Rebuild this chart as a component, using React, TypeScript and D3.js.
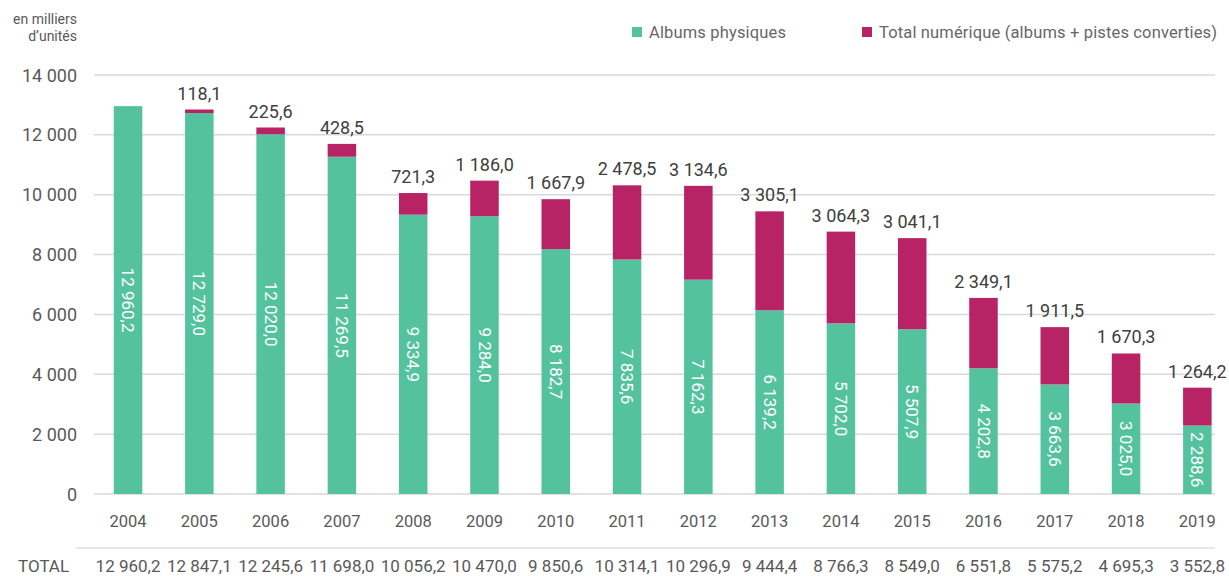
import React, { useEffect, useRef } from "react";
import * as d3 from "d3";

const years = ["2004", "2005", "2006", "2007", "2008", "2009", "2010", "2011", "2012", "2013", "2014", "2015", "2016", "2017", "2018", "2019"];
const physical = [12960.2, 12729.0, 12020.0, 11269.5, 9334.9, 9284.0, 8182.7, 7835.6, 7162.3, 6139.2, 5702.0, 5507.9, 4202.8, 3663.6, 3025.0, 2288.6];
const digital = [0, 118.1, 225.6, 428.5, 721.3, 1186.0, 1667.9, 2478.5, 3134.6, 3305.1, 3064.3, 3041.1, 2349.1, 1911.5, 1670.3, 1264.2];
const totals = ["12 960,2", "12 847,1", "12 245,6", "11 698,0", "10 056,2", "10 470,0", "9 850,6", "10 314,1", "10 296,9", "9 444,4", "8 766,3", "8 549,0", "6 551,8", "5 575,2", "4 695,3", "3 552,8"];
const yTicks = [0, 2000, 4000, 6000, 8000, 10000, 12000, 14000];

const GREEN = "#55c29e";
const MAGENTA = "#b72364";
const FONT = "Roboto, 'Noto Sans', sans-serif";
const GREY = "#595959";

// french number format: 12 960,2
const fr = (v: number, dec: number) => {
  const s = v.toFixed(dec).split(".");
  const int = s[0].replace(/\B(?=(\d{3})+(?!\d))/g, " ");
  return dec ? int + "," + s[1] : int;
};

export default function App() {
  const ref = useRef<SVGSVGElement>(null);

  useEffect(() => {
    const svg = d3.select(ref.current);
    svg.selectAll("*").remove();

    const x = d3.scaleBand().domain(years).range([92.4, 1233]).paddingInner(0.6).paddingOuter(0.3);
    const y = d3.scaleLinear().domain([0, 14000]).range([494, 75]);

    // grid
    svg.append("g").selectAll("line").data(yTicks).enter().append("line")
      .attr("x1", 94).attr("x2", 1215)
      .attr("y1", d => y(d)).attr("y2", d => y(d))
      .attr("stroke", "#d9d9d9").attr("stroke-width", 1.5);

    svg.append("g").selectAll("text").data(yTicks).enter().append("text")
      .attr("x", 77).attr("y", d => y(d) + 6.5)
      .attr("text-anchor", "end")
      .attr("font-size", 18).attr("fill", GREY)
      .text(d => fr(d, 0));

    // unit
    svg.append("text").attr("x", 77).attr("y", 24).attr("text-anchor", "end")
      .attr("font-size", 14).attr("fill", GREY).text("en milliers");
    svg.append("text").attr("x", 77).attr("y", 41).attr("text-anchor", "end")
      .attr("font-size", 14).attr("fill", GREY).text("d’unités");

    const g = svg.append("g");
    const bars = g.selectAll("g").data(years).enter().append("g");

    bars.append("rect")
      .attr("x", d => x(d)!)
      .attr("width", x.bandwidth())
      .attr("y", (d, i) => y(physical[i]))
      .attr("height", (d, i) => y(0) - y(physical[i]))
      .attr("fill", GREEN);

    bars.append("rect")
      .attr("x", d => x(d)!)
      .attr("width", x.bandwidth())
      .attr("y", (d, i) => y(physical[i] + digital[i]))
      .attr("height", (d, i) => y(0) - y(digital[i]))
      .attr("fill", MAGENTA);

    // rotated labels inside green
    bars.append("text")
      .attr("transform", (d, i) => {
        const cx = x(d)! + x.bandwidth() / 2;
        const cy = (y(physical[i]) + y(0)) / 2;
        return `translate(${cx},${cy}) rotate(90)`;
      })
      .attr("text-anchor", "middle")
      .attr("dy", "0.35em")
      .attr("font-size", 17).attr("fill", "#fff")
      .text((d, i) => fr(physical[i], 1));

    // digital labels on top
    bars.filter((d, i) => digital[i] > 0).append("text")
      .attr("x", d => x(d)! + x.bandwidth() / 2)
      .attr("y", d => {
        const i = years.indexOf(d);
        return y(physical[i] + digital[i]) - 10;
      })
      .attr("text-anchor", "middle")
      .attr("font-size", 18).attr("fill", "#404040")
      .text(d => fr(digital[years.indexOf(d)], 1));

    // years
    bars.append("text")
      .attr("x", d => x(d)! + x.bandwidth() / 2)
      .attr("y", 527)
      .attr("text-anchor", "middle")
      .attr("font-size", 16.5).attr("fill", GREY)
      .text(d => d);

    // totals row
    svg.append("line").attr("x1", 76).attr("x2", 1215).attr("y1", 548).attr("y2", 548)
      .attr("stroke", "#e0e0e0").attr("stroke-width", 1.5);
    svg.append("text").attr("x", 18).attr("y", 572)
      .attr("font-size", 17).attr("fill", GREY).text("TOTAL");
    bars.append("text")
      .attr("x", d => x(d)! + x.bandwidth() / 2)
      .attr("y", 572)
      .attr("text-anchor", "middle")
      .attr("font-size", 17).attr("fill", GREY)
      .text((d, i) => totals[i]);

    // legend
    const legend = [
      { label: "Albums physiques", color: GREEN, x: 632 },
      { label: "Total numérique (albums + pistes converties)", color: MAGENTA, x: 862 },
    ];
    const lg = svg.append("g").selectAll("g").data(legend).enter().append("g")
      .attr("transform", d => `translate(${d.x},27)`);
    lg.append("rect").attr("width", 10).attr("height", 10).attr("fill", d => d.color);
    lg.append("text").attr("x", 17).attr("y", 11)
      .attr("font-size", 16.5).attr("letter-spacing", 0.15).attr("fill", "#666").text(d => d.label);
  }, []);

  return (
    <svg ref={ref} width={1229} height={576}
      style={{ position: "absolute", left: 0, top: 0, fontFamily: FONT, background: "#fff" }} />
  );
}
